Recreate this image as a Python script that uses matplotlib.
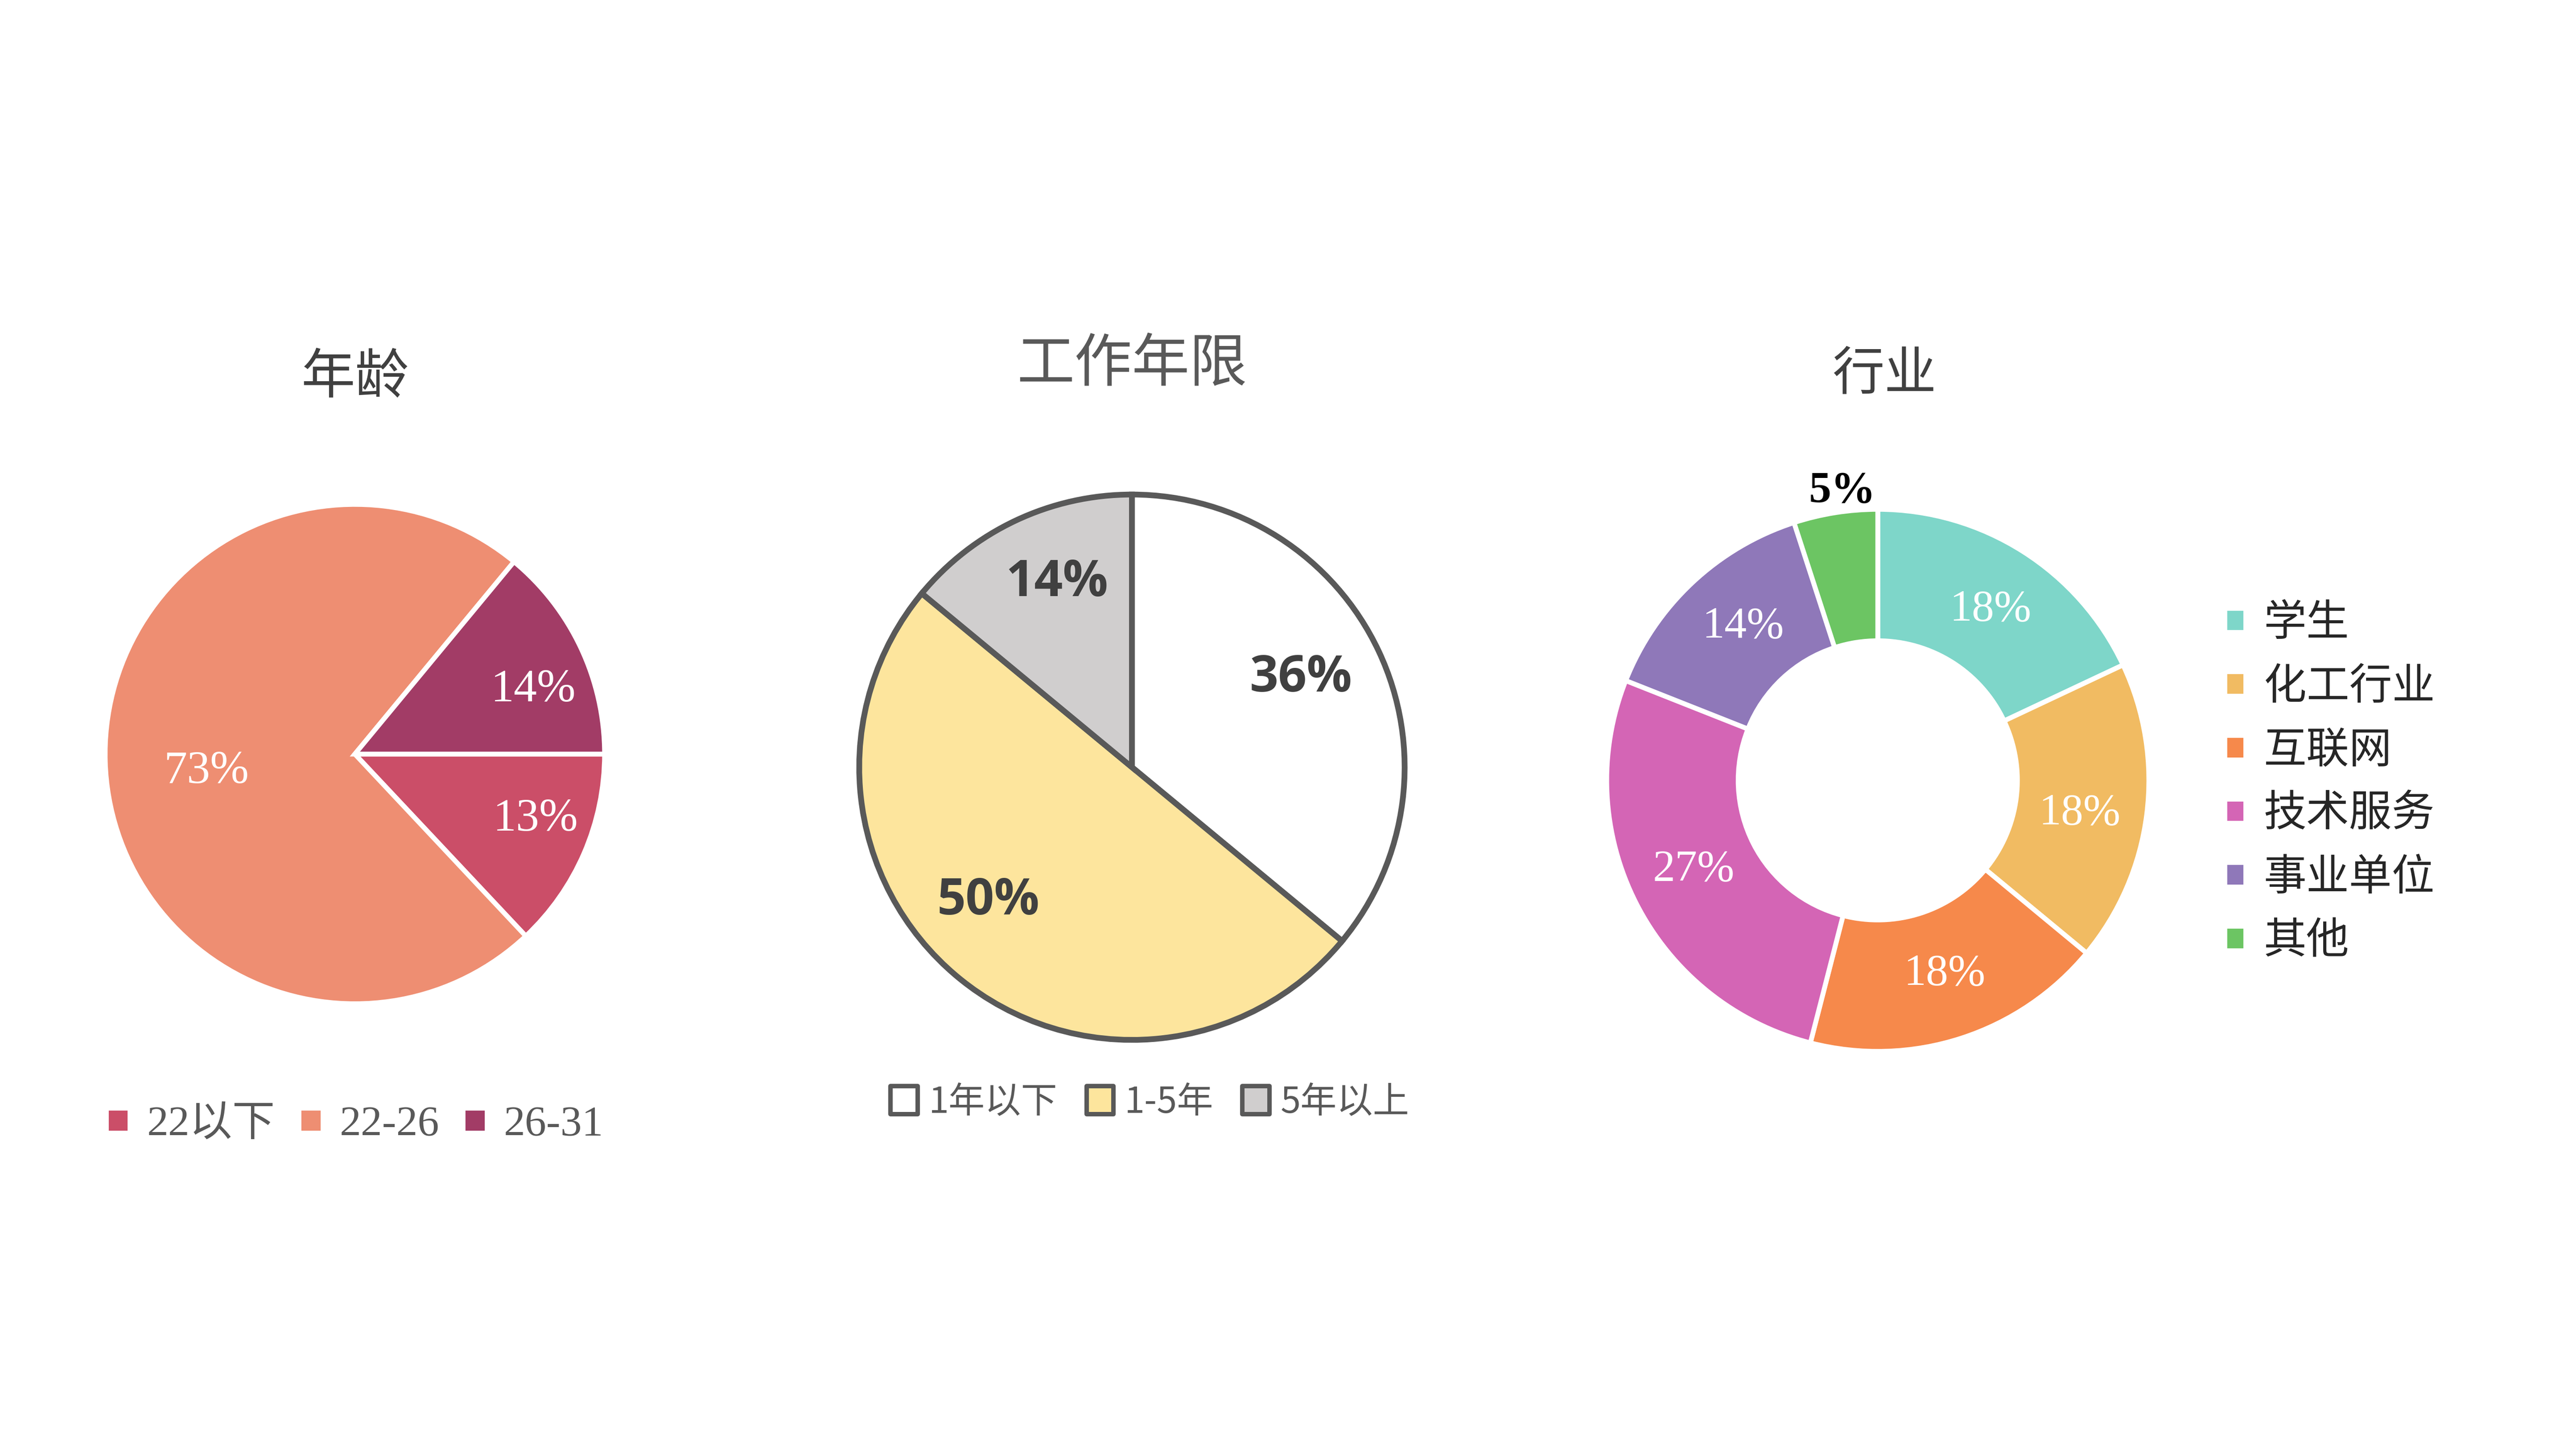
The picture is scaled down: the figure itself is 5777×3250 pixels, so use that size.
import matplotlib
matplotlib.use("Agg")
import matplotlib.pyplot as plt
import numpy as np

# data
age_labels = ["22以下", "22-26", "26-31"]
age_values = [13, 73, 14]
age_colors = ["#CB4E68", "#EE8E72", "#A23C66"]

work_labels = ["1年以下", "1-5年", "5年以上"]
work_values = [36, 50, 14]
work_colors = ["#FFFFFF", "#FDE59D", "#D0CECE"]

ind_labels = ["学生", "化工行业", "互联网", "技术服务", "事业单位", "其他"]
ind_values = [18, 18, 18, 27, 14, 5]
ind_colors = ["#7ED6C9", "#F1BB62", "#F6894B", "#D465B5", "#8F78B9", "#6CC563"]

W, H = 1568.0, 882.0  # layout units (reference scaled down)
CJK = "Noto Sans CJK SC"
SERIF = ["Liberation Serif", CJK]

fig = plt.figure(figsize=(5777 / 300, 3250 / 300), dpi=300)
fig.patch.set_facecolor("white")


def place(cx, cy, r):
    return fig.add_axes([(cx - r) / W, 1 - (cy + r) / H, 2 * r / W, 2 * r / H])


def fx(x):
    return x / W


def fy(y):
    return 1 - y / H


def move_labels(wedges, texts, radii, shifts):
    # label at given radius, angle = middle of wedge + small shift (degrees)
    for w, t, rr, s in zip(wedges, texts, radii, shifts):
        ang = np.deg2rad((w.theta1 + w.theta2) / 2 + s)
        t.set_position((rr * np.cos(ang), rr * np.sin(ang)))


# ---- pie 1: 年龄
ax1 = place(216, 459, 152)
w1, _, a1 = ax1.pie(age_values, colors=age_colors, startangle=0, counterclock=False,
                    radius=1, autopct="%.0f%%",
                    wedgeprops=dict(edgecolor="white", linewidth=2.6),
                    textprops=dict(color="white", fontsize=25, family=SERIF))
move_labels(w1, a1, [0.77, 0.6, 0.76], [3.5, 5, -5.5])
ax1.set_xlim(-1, 1)
ax1.set_ylim(-1, 1)
fig.text(fx(216), fy(230), "年龄", ha="center", va="center", fontsize=29,
         color="#404040", family=CJK)
fig.legend(w1, age_labels, loc="center", bbox_to_anchor=(fx(216), fy(685)), ncol=3,
           frameon=False, borderpad=0, borderaxespad=0, handlelength=0.56,
           handleheight=0.52, handletextpad=0.4, columnspacing=0.55,
           labelcolor="#595959", prop=dict(family=SERIF, size=23))

# ---- pie 2: 工作年限
ax2 = place(689, 467, 166)
w2, _, a2 = ax2.pie(work_values, colors=work_colors, startangle=90, counterclock=False,
                    radius=1, autopct="%.0f%%",
                    wedgeprops=dict(edgecolor="#595959", linewidth=3.1),
                    textprops=dict(color="#404040", fontsize=27, fontweight="bold",
                                   family=["Open Sans", "DejaVu Sans"]))
move_labels(w2, a2, [0.70, 0.72, 0.73], [2.5, -7.4, -3])
ax2.set_xlim(-1, 1)
ax2.set_ylim(-1, 1)
fig.text(fx(689), fy(222), "工作年限", ha="center", va="center", fontsize=31,
         color="#595959", family=CJK)
leg2 = fig.legend(w2, work_labels, loc="center", bbox_to_anchor=(fx(700), fy(671)), ncol=3,
                  frameon=False, borderpad=0, borderaxespad=0, handlelength=0.75,
                  handleheight=0.8, handletextpad=0.3, columnspacing=0.8,
                  labelcolor="#595959", prop=dict(family=CJK, size=19.5))
for p in leg2.get_patches():
    p.set_linewidth(2.4)
    p.set_joinstyle("round")

# ---- donut 3: 行业
ax3 = place(1143, 475, 165)
w3, _, a3 = ax3.pie(ind_values, colors=ind_colors, startangle=90, counterclock=False,
                    radius=1, autopct="%.0f%%",
                    wedgeprops=dict(edgecolor="white", linewidth=2.6, width=0.485),
                    textprops=dict(color="white", fontsize=24, family=SERIF))
move_labels(w3, a3, [0.755, 0.755, 0.755, 0.755, 0.755, 1.075], [-1, -2, 1, -1, -2, -2])
a3[-1].set_color("black")
a3[-1].set_fontweight("bold")
ax3.set_xlim(-1, 1)
ax3.set_ylim(-1, 1)
fig.text(fx(1147), fy(228), "行业", ha="center", va="center", fontsize=28,
         color="#404040", family=CJK)
fig.legend(w3, ind_labels, loc="center left", bbox_to_anchor=(fx(1354), fy(476)), ncol=1,
           frameon=False, borderpad=0, borderaxespad=0, handlelength=0.5,
           handleheight=0.5, handletextpad=0.42, labelspacing=0.45,
           labelcolor="#262626", prop=dict(family=CJK, size=23))

fig.savefig("out.png", dpi=300, facecolor="white")
